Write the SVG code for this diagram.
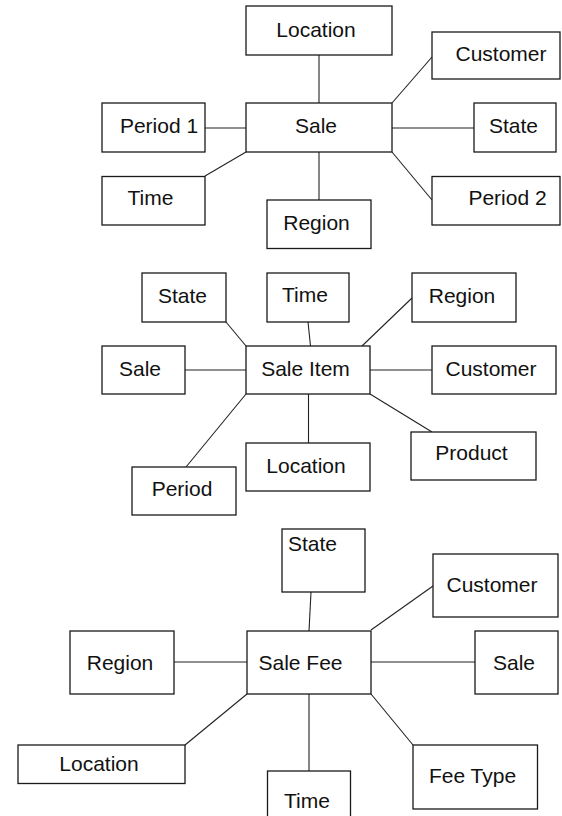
<svg xmlns="http://www.w3.org/2000/svg" width="562" height="816" viewBox="0 0 562 816">
  <style>
    rect { fill: #fff; stroke: #1a1a1a; stroke-width: 1.3; }
    text { font-family: "Liberation Sans", Arial, sans-serif; font-size: 21px; fill: #111; text-anchor: middle; }
    .lines line { stroke: #222; stroke-width: 1.1; }
  </style>
  <rect x="0" y="0" width="562" height="816" style="stroke:none"/>

  <!-- connectors -->
  <g class="lines" id="connectors">
    <!-- Sale -->
    <line x1="319" y1="55" x2="319" y2="103"/>
    <line x1="392" y1="103" x2="432" y2="57"/>
    <line x1="205" y1="128" x2="246" y2="128"/>
    <line x1="392" y1="128" x2="474" y2="128"/>
    <line x1="246" y1="152" x2="205" y2="176"/>
    <line x1="319" y1="152" x2="319" y2="200"/>
    <line x1="392" y1="152" x2="432" y2="200"/>
    <!-- Sale Item -->
    <line x1="226" y1="322" x2="246" y2="346"/>
    <line x1="308" y1="322" x2="310.5" y2="346"/>
    <line x1="412" y1="298" x2="362" y2="346"/>
    <line x1="185" y1="370" x2="246" y2="370"/>
    <line x1="370" y1="370" x2="432" y2="370"/>
    <line x1="246" y1="394" x2="186" y2="467"/>
    <line x1="308.5" y1="394" x2="308.5" y2="443"/>
    <line x1="370" y1="394" x2="432" y2="432"/>
    <!-- Sale Fee -->
    <line x1="311" y1="592" x2="309" y2="631"/>
    <line x1="433" y1="586" x2="371" y2="630"/>
    <line x1="174" y1="662" x2="247" y2="662"/>
    <line x1="371" y1="662" x2="475" y2="662"/>
    <line x1="247" y1="694" x2="185" y2="745"/>
    <line x1="309" y1="694" x2="309" y2="771"/>
    <line x1="371" y1="694" x2="413" y2="745"/>
  </g>

  <!-- Sale star -->
  <g id="sale"><rect x="246" y="103" width="146" height="49"/><text x="316" y="133">Sale</text></g>
  <g id="sale-location"><rect x="246" y="6" width="146" height="49"/><text x="316" y="37">Location</text></g>
  <g id="sale-customer"><rect x="432" y="32" width="128" height="47"/><text x="501" y="61">Customer</text></g>
  <g id="sale-period1"><rect x="102" y="103" width="103" height="49"/><text x="159" y="133">Period 1</text></g>
  <g id="sale-state"><rect x="474" y="103" width="82" height="49"/><text x="513.5" y="133">State</text></g>
  <g id="sale-time"><rect x="102" y="176.5" width="103" height="48.5"/><text x="150.5" y="205">Time</text></g>
  <g id="sale-region"><rect x="267" y="200" width="104" height="48.5"/><text x="316.5" y="230">Region</text></g>
  <g id="sale-period2"><rect x="432" y="176.5" width="128" height="48.5"/><text x="507.5" y="205">Period 2</text></g>

  <!-- Sale Item star -->
  <g id="sale-item"><rect x="246" y="346" width="124" height="48"/><text x="305.5" y="376">Sale Item</text></g>
  <g id="item-state"><rect x="142" y="273" width="84" height="49"/><text x="182.5" y="303">State</text></g>
  <g id="item-time"><rect x="267" y="273" width="82" height="49"/><text x="305" y="302">Time</text></g>
  <g id="item-region"><rect x="412" y="273" width="104" height="49"/><text x="462" y="303">Region</text></g>
  <g id="item-sale"><rect x="102" y="346" width="83" height="48"/><text x="140" y="376">Sale</text></g>
  <g id="item-customer"><rect x="432" y="346" width="124" height="48"/><text x="491" y="376">Customer</text></g>
  <g id="item-period"><rect x="132" y="467" width="104" height="48"/><text x="182" y="496">Period</text></g>
  <g id="item-location"><rect x="246" y="443" width="124" height="48"/><text x="306" y="473">Location</text></g>
  <g id="item-product"><rect x="411" y="432" width="125" height="48"/><text x="471.5" y="460">Product</text></g>

  <!-- Sale Fee star -->
  <g id="sale-fee"><rect x="247" y="631" width="124" height="63"/><text x="300.5" y="669.5">Sale Fee</text></g>
  <g id="fee-state"><rect x="282" y="529" width="83" height="63"/><text x="312.5" y="551">State</text></g>
  <g id="fee-customer"><rect x="433" y="554" width="125" height="63"/><text x="492" y="592">Customer</text></g>
  <g id="fee-region"><rect x="70" y="631" width="104" height="63"/><text x="120" y="669.5">Region</text></g>
  <g id="fee-sale"><rect x="475" y="631" width="83" height="63"/><text x="514" y="669.5">Sale</text></g>
  <g id="fee-location"><rect x="18" y="745" width="167" height="38.5"/><text x="99" y="770.5">Location</text></g>
  <g id="fee-time"><rect x="267.5" y="771" width="83" height="60"/><text x="307" y="807.5">Time</text></g>
  <g id="fee-type"><rect x="413" y="745" width="124.5" height="64"/><text x="472.5" y="782.5">Fee Type</text></g>
</svg>
